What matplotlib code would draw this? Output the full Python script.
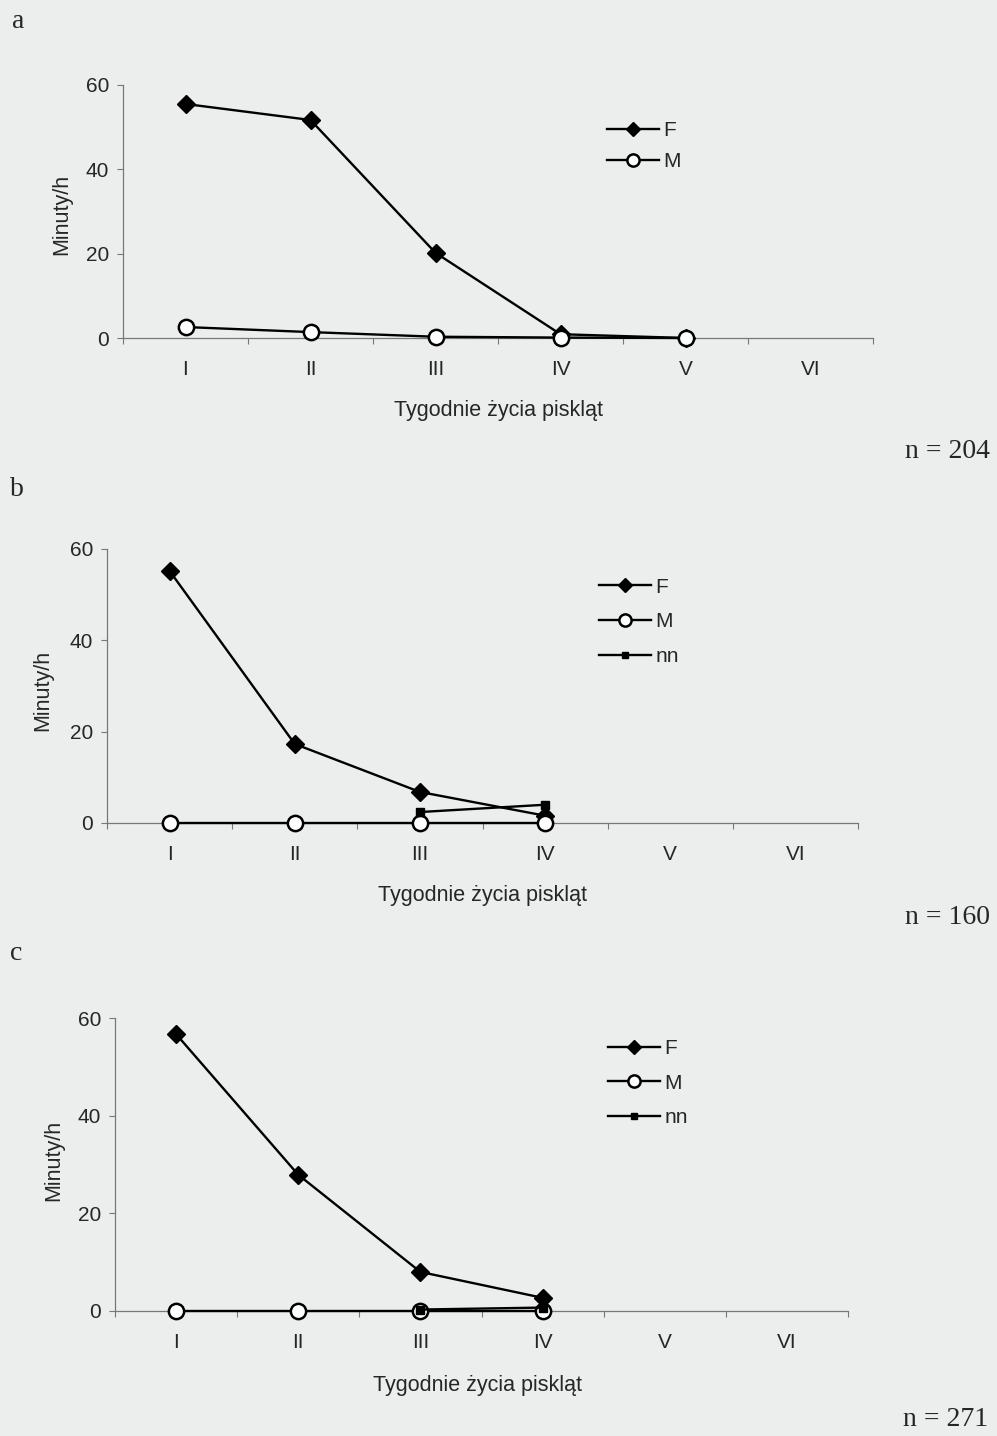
import numpy as np
import matplotlib
matplotlib.use("Agg")
import matplotlib.pyplot as plt

# --- data -------------------------------------------------------------
weeks = ["I", "II", "III", "IV", "V", "VI"]

a_F = [55.5, 51.7, 20.2, 0.9, 0.0]
a_M = [2.6, 1.4, 0.3, 0.1, 0.0]

b_F = [55.2, 17.3, 6.8, 1.6]
b_M = [0.0, 0.0, 0.0, 0.0]
b_nn = [np.nan, np.nan, 2.4, 4.0]

c_F = [56.7, 27.9, 8.0, 2.7]
c_M = [0.0, 0.0, 0.0, 0.0]
c_nn = [np.nan, np.nan, 0.3, 0.7]

panel_letters = ["a", "b", "c"]
n_labels = ["n = 204", "n = 160", "n = 271"]
y_ticks = [0, 20, 40, 60]
ylabel = "Minuty/h"
xlabel = "Tygodnie życia piskląt"

# --- styling ----------------------------------------------------------
BG = "#ebeeed"
TXT = "#262626"
SANS = "Liberation Sans"
SERIF = "Liberation Serif"
plt.rcParams["font.family"] = SANS

fig = plt.figure(figsize=(9.97, 14.36), dpi=100, facecolor=BG)

W, H = 997.0, 1436.0


def axes_from_px(left, right, y0, y60):
    return fig.add_axes([left / W, 1 - y0 / H, (right - left) / W, (y0 - y60) / H])


panels = [
    dict(ax=axes_from_px(123, 873, 338, 85),
         series=[("F", a_F), ("M", a_M)],
         leg=(0.645, 0.858), spacing=0.6,
         ylab=(-0.082, 0.49), xlab=(0.5, -0.285)),
    dict(ax=axes_from_px(107, 858, 823, 549),
         series=[("F", b_F), ("M", b_M), ("nn", b_nn)],
         leg=(0.655, 0.895), spacing=0.75,
         ylab=(-0.085, 0.485), xlab=(0.5, -0.263)),
    dict(ax=axes_from_px(115, 848, 1311, 1018),
         series=[("F", c_F), ("M", c_M), ("nn", c_nn)],
         leg=(0.673, 0.928), spacing=0.75,
         ylab=(-0.084, 0.515), xlab=(0.495, -0.253)),
]

styles = {
    "F": dict(marker="D", markersize=9, markerfacecolor="black",
              markeredgecolor="black"),
    "M": dict(marker="o", markersize=11, markerfacecolor="white",
              markeredgecolor="black", markeredgewidth=1.8),
    "nn": dict(marker="s", markersize=5.5, markerfacecolor="black",
               markeredgecolor="black"),
}

for p in panels:
    ax = p["ax"]
    ax.set_facecolor("none")
    handles = []
    for name, vals in p["series"]:
        x = np.arange(1, len(vals) + 1)
        ln, = ax.plot(x, vals, color="black", lw=1.7, label=name,
                      clip_on=False, zorder=3, **styles[name])
        handles.append(ln)

    ax.set_xlim(0.5, 6.5)
    ax.set_ylim(0, 60)
    ax.set_xticks(np.arange(1, 7))
    ax.set_xticklabels(weeks)
    ax.set_xticks(np.arange(0.5, 7.0, 1.0), minor=True)
    ax.tick_params(axis="x", which="major", length=0, pad=16, labelsize=15,
                   labelcolor=TXT)
    ax.tick_params(axis="x", which="minor", length=4, width=0.8,
                   color="#777777", direction="out")
    ax.set_yticks(y_ticks)
    ax.tick_params(axis="y", length=4, width=0.8, color="#777777",
                   pad=6, labelsize=15, labelcolor=TXT)
    for s in ("top", "right"):
        ax.spines[s].set_visible(False)
    for s in ("left", "bottom"):
        ax.spines[s].set_color("#777777")
        ax.spines[s].set_linewidth(0.9)

    ax.set_ylabel(ylabel, fontsize=15.5, color=TXT, va="center", ha="center")
    ax.yaxis.set_label_coords(*p["ylab"])
    ax.set_xlabel(xlabel, fontsize=15.5, color=TXT, va="center", ha="center")
    ax.xaxis.set_label_coords(*p["xlab"])

    ax.legend(handles=handles, loc="upper left", bbox_to_anchor=p["leg"],
              frameon=False, fontsize=15, handlelength=2.5, markerscale=0.8,
              handletextpad=0.2, labelspacing=p["spacing"], borderpad=0,
              borderaxespad=0, labelcolor=TXT)

# panel letters and sample sizes
letter_pos = [(12, 22), (10, 490), (10, 953)]
n_pos = [(990, 452), (990, 918), (988, 1420)]
for letter, (lx, ly) in zip(panel_letters, letter_pos):
    fig.text(lx / W, 1 - ly / H, letter, family=SERIF, fontsize=20,
             ha="left", va="center", color=TXT)
for lab, (nx, ny) in zip(n_labels, n_pos):
    fig.text(nx / W, 1 - ny / H, lab, family=SERIF, fontsize=20,
             ha="right", va="center", color=TXT)

fig.savefig("out.png", dpi=100, facecolor=BG)
